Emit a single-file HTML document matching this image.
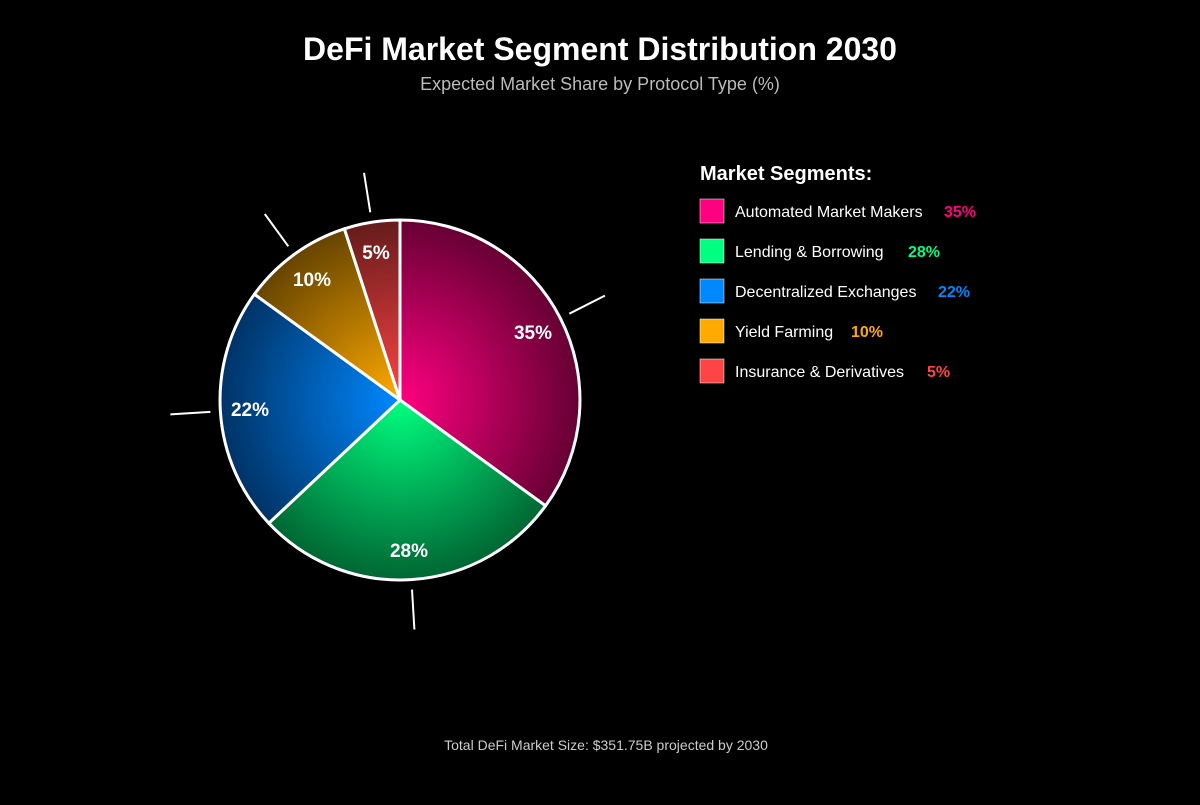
<!DOCTYPE html>
<html><head><meta charset="utf-8"><style>
body{margin:0;background:#000;width:1200px;height:800px;overflow:hidden;font-family:"Liberation Sans",sans-serif;}
</style></head><body>
<svg width="1200" height="800" xmlns="http://www.w3.org/2000/svg" font-family="Liberation Sans, sans-serif">
<defs>
<radialGradient id="g1" cx="400" cy="400" r="180" gradientUnits="userSpaceOnUse"><stop offset="0" stop-color="#ff0080"/><stop offset="1" stop-color="#660033"/></radialGradient>
<radialGradient id="g2" cx="400" cy="400" r="180" gradientUnits="userSpaceOnUse"><stop offset="0" stop-color="#00ff80"/><stop offset="1" stop-color="#006633"/></radialGradient>
<radialGradient id="g3" cx="400" cy="400" r="180" gradientUnits="userSpaceOnUse"><stop offset="0" stop-color="#0088ff"/><stop offset="1" stop-color="#003366"/></radialGradient>
<radialGradient id="g4" cx="400" cy="400" r="180" gradientUnits="userSpaceOnUse"><stop offset="0" stop-color="#ffaa00"/><stop offset="1" stop-color="#664400"/></radialGradient>
<radialGradient id="g5" cx="400" cy="400" r="180" gradientUnits="userSpaceOnUse"><stop offset="0" stop-color="#ff4444"/><stop offset="1" stop-color="#661b1b"/></radialGradient>
</defs>
<text x="600" y="60" text-anchor="middle" fill="#fff" font-size="32" font-weight="bold">DeFi Market Segment Distribution 2030</text>
<text x="600" y="90" text-anchor="middle" fill="#bbb" font-size="18">Expected Market Share by Protocol Type (%)</text>
<g stroke="#fff" stroke-width="3" stroke-linejoin="round">
<path d="M400,400 L400,220 A180,180 0 0 1 545.6,505.8 Z" fill="url(#g1)"/>
<path d="M400,400 L545.6,505.8 A180,180 0 0 1 268.8,523.2 Z" fill="url(#g2)"/>
<path d="M400,400 L268.8,523.2 A180,180 0 0 1 254.4,294.2 Z" fill="url(#g3)"/>
<path d="M400,400 L254.4,294.2 A180,180 0 0 1 344.4,228.8 Z" fill="url(#g4)"/>
<path d="M400,400 L344.4,228.8 A180,180 0 0 1 400,220 Z" fill="url(#g5)"/>
</g>
<g stroke="#fff" stroke-width="2">
<line x1="569.3" y1="313.7" x2="604.9" y2="295.6"/>
<line x1="412" y1="589.6" x2="414.4" y2="629.5"/>
<line x1="210.4" y1="411.9" x2="170.4" y2="414.4"/>
<line x1="288.3" y1="246.3" x2="264.8" y2="214"/>
<line x1="370.3" y1="212.3" x2="364" y2="172.8"/>
</g>
<g fill="#fff" font-size="19" font-weight="bold" text-anchor="middle">
<text x="533" y="339">35%</text>
<text x="409" y="557">28%</text>
<text x="250" y="416">22%</text>
<text x="312" y="286">10%</text>
<text x="376" y="259">5%</text>
</g>
<text x="700" y="180" fill="#fff" font-size="20" font-weight="bold">Market Segments:</text>
<g font-size="16">
<rect x="700" y="199" width="24" height="24" fill="#ff0080" stroke="#fff" stroke-opacity=".5"/>
<text x="735" y="217" fill="#fff">Automated Market Makers</text><text x="944" y="217" fill="#ff0080" font-weight="bold">35%</text>
<rect x="700" y="239" width="24" height="24" fill="#00ff80" stroke="#fff" stroke-opacity=".5"/>
<text x="735" y="257" fill="#fff">Lending &amp; Borrowing</text><text x="908" y="257" fill="#00ff80" font-weight="bold">28%</text>
<rect x="700" y="279" width="24" height="24" fill="#0088ff" stroke="#fff" stroke-opacity=".5"/>
<text x="735" y="297" fill="#fff">Decentralized Exchanges</text><text x="938" y="297" fill="#0088ff" font-weight="bold">22%</text>
<rect x="700" y="319" width="24" height="24" fill="#ffaa00" stroke="#fff" stroke-opacity=".5"/>
<text x="735" y="337" fill="#fff">Yield Farming</text><text x="851" y="337" fill="#ffaa00" font-weight="bold">10%</text>
<rect x="700" y="359" width="24" height="24" fill="#ff4444" stroke="#fff" stroke-opacity=".5"/>
<text x="735" y="377" fill="#fff">Insurance &amp; Derivatives</text><text x="927" y="377" fill="#ff4444" font-weight="bold">5%</text>
</g>
<text x="606" y="750" text-anchor="middle" fill="#ccc" font-size="14">Total DeFi Market Size: $351.75B projected by 2030</text>
</svg>
</body></html>
